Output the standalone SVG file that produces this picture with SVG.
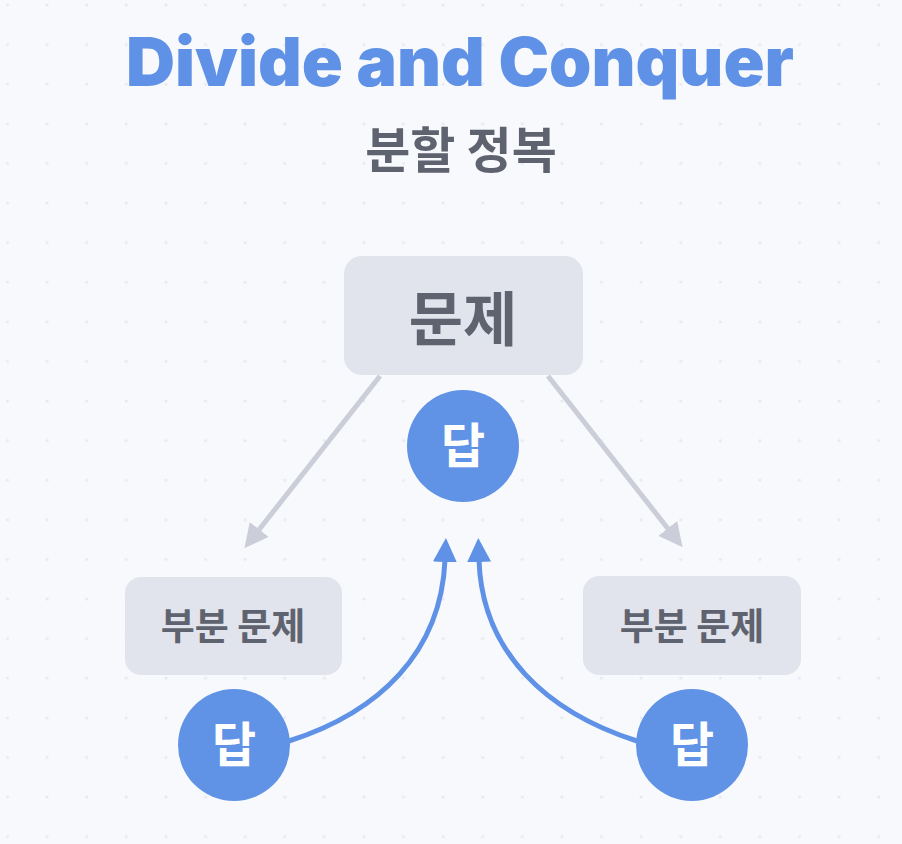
<svg xmlns="http://www.w3.org/2000/svg" width="902" height="844" viewBox="0 0 902 844">
  <style>
    .title { font-family: "Inter", "Liberation Sans", sans-serif; font-weight: 900; fill: #5f92e6; }
    .ko { font-family: "Noto Sans CJK KR", "Noto Sans", sans-serif; font-weight: 700; }
    .box { fill: #e1e4ec; }
    .boxtext { fill: #5f636f; }
    .ans { fill: #6093e5; }
    .anstext { fill: #ffffff; }
    .gray { stroke: #cbced8; stroke-width: 5; fill: none; }
    .blue { stroke: #5f92e6; stroke-width: 5; fill: none; }
  </style>
  <defs>
    <pattern id="dots" patternUnits="userSpaceOnUse" x="-12.3" y="-14.8" width="39.6" height="39.6">
      <circle cx="19.8" cy="19.8" r="1.6" fill="#e7e9ef"/>
    </pattern>
    <marker id="grayHead" markerUnits="userSpaceOnUse" markerWidth="26" markerHeight="26" refX="2" refY="12" orient="auto">
      <polygon points="0,0 24,12 0,24" fill="#cbced8"/>
    </marker>
    <marker id="blueHead" markerUnits="userSpaceOnUse" markerWidth="26" markerHeight="26" refX="2" refY="12" orient="auto">
      <polygon points="0,0 24,12 0,24" fill="#5f92e6"/>
    </marker>
  </defs>
  <rect width="902" height="844" fill="#f8f9fc"/>
  <rect width="902" height="844" fill="url(#dots)"/>

  <g id="title">
    <text class="title" x="460" y="86" font-size="68" text-anchor="middle" textLength="668" lengthAdjust="spacingAndGlyphs">Divide and Conquer</text>
    <text class="ko boxtext" x="461" y="168" font-size="49" text-anchor="middle">분할 정복</text>
  </g>

  <g id="connectors">
    <path class="gray" d="M380,376 L258,531" marker-end="url(#grayHead)"/>
    <path class="gray" d="M548,376 L669,530" marker-end="url(#grayHead)"/>
    <path class="blue" d="M289,741 C380,712 441,652 445,560" marker-end="url(#blueHead)"/>
    <path class="blue" d="M637,741 C546,712 482,652 479,560" marker-end="url(#blueHead)"/>
  </g>

  <g id="problem">
    <rect class="box" x="344" y="256" width="239" height="119" rx="18"/>
    <text class="ko boxtext" x="463" y="341" font-size="59" text-anchor="middle">문제</text>
  </g>
  <g id="answer-top">
    <circle class="ans" cx="463" cy="446" r="56"/>
    <text class="ko anstext" x="463" y="463" font-size="48" text-anchor="middle">답</text>
  </g>
  <g id="subproblem-left">
    <rect class="box" x="125" y="577" width="217" height="98" rx="16"/>
    <text class="ko boxtext" x="233" y="640" font-size="37" text-anchor="middle">부분 문제</text>
  </g>
  <g id="subproblem-right">
    <rect class="box" x="583" y="576" width="218" height="99" rx="16"/>
    <text class="ko boxtext" x="692" y="640" font-size="37" text-anchor="middle">부분 문제</text>
  </g>
  <g id="answer-left">
    <circle class="ans" cx="234" cy="745" r="56"/>
    <text class="ko anstext" x="234" y="762" font-size="48" text-anchor="middle">답</text>
  </g>
  <g id="answer-right">
    <circle class="ans" cx="692" cy="745" r="56"/>
    <text class="ko anstext" x="692" y="762" font-size="48" text-anchor="middle">답</text>
  </g>
</svg>
